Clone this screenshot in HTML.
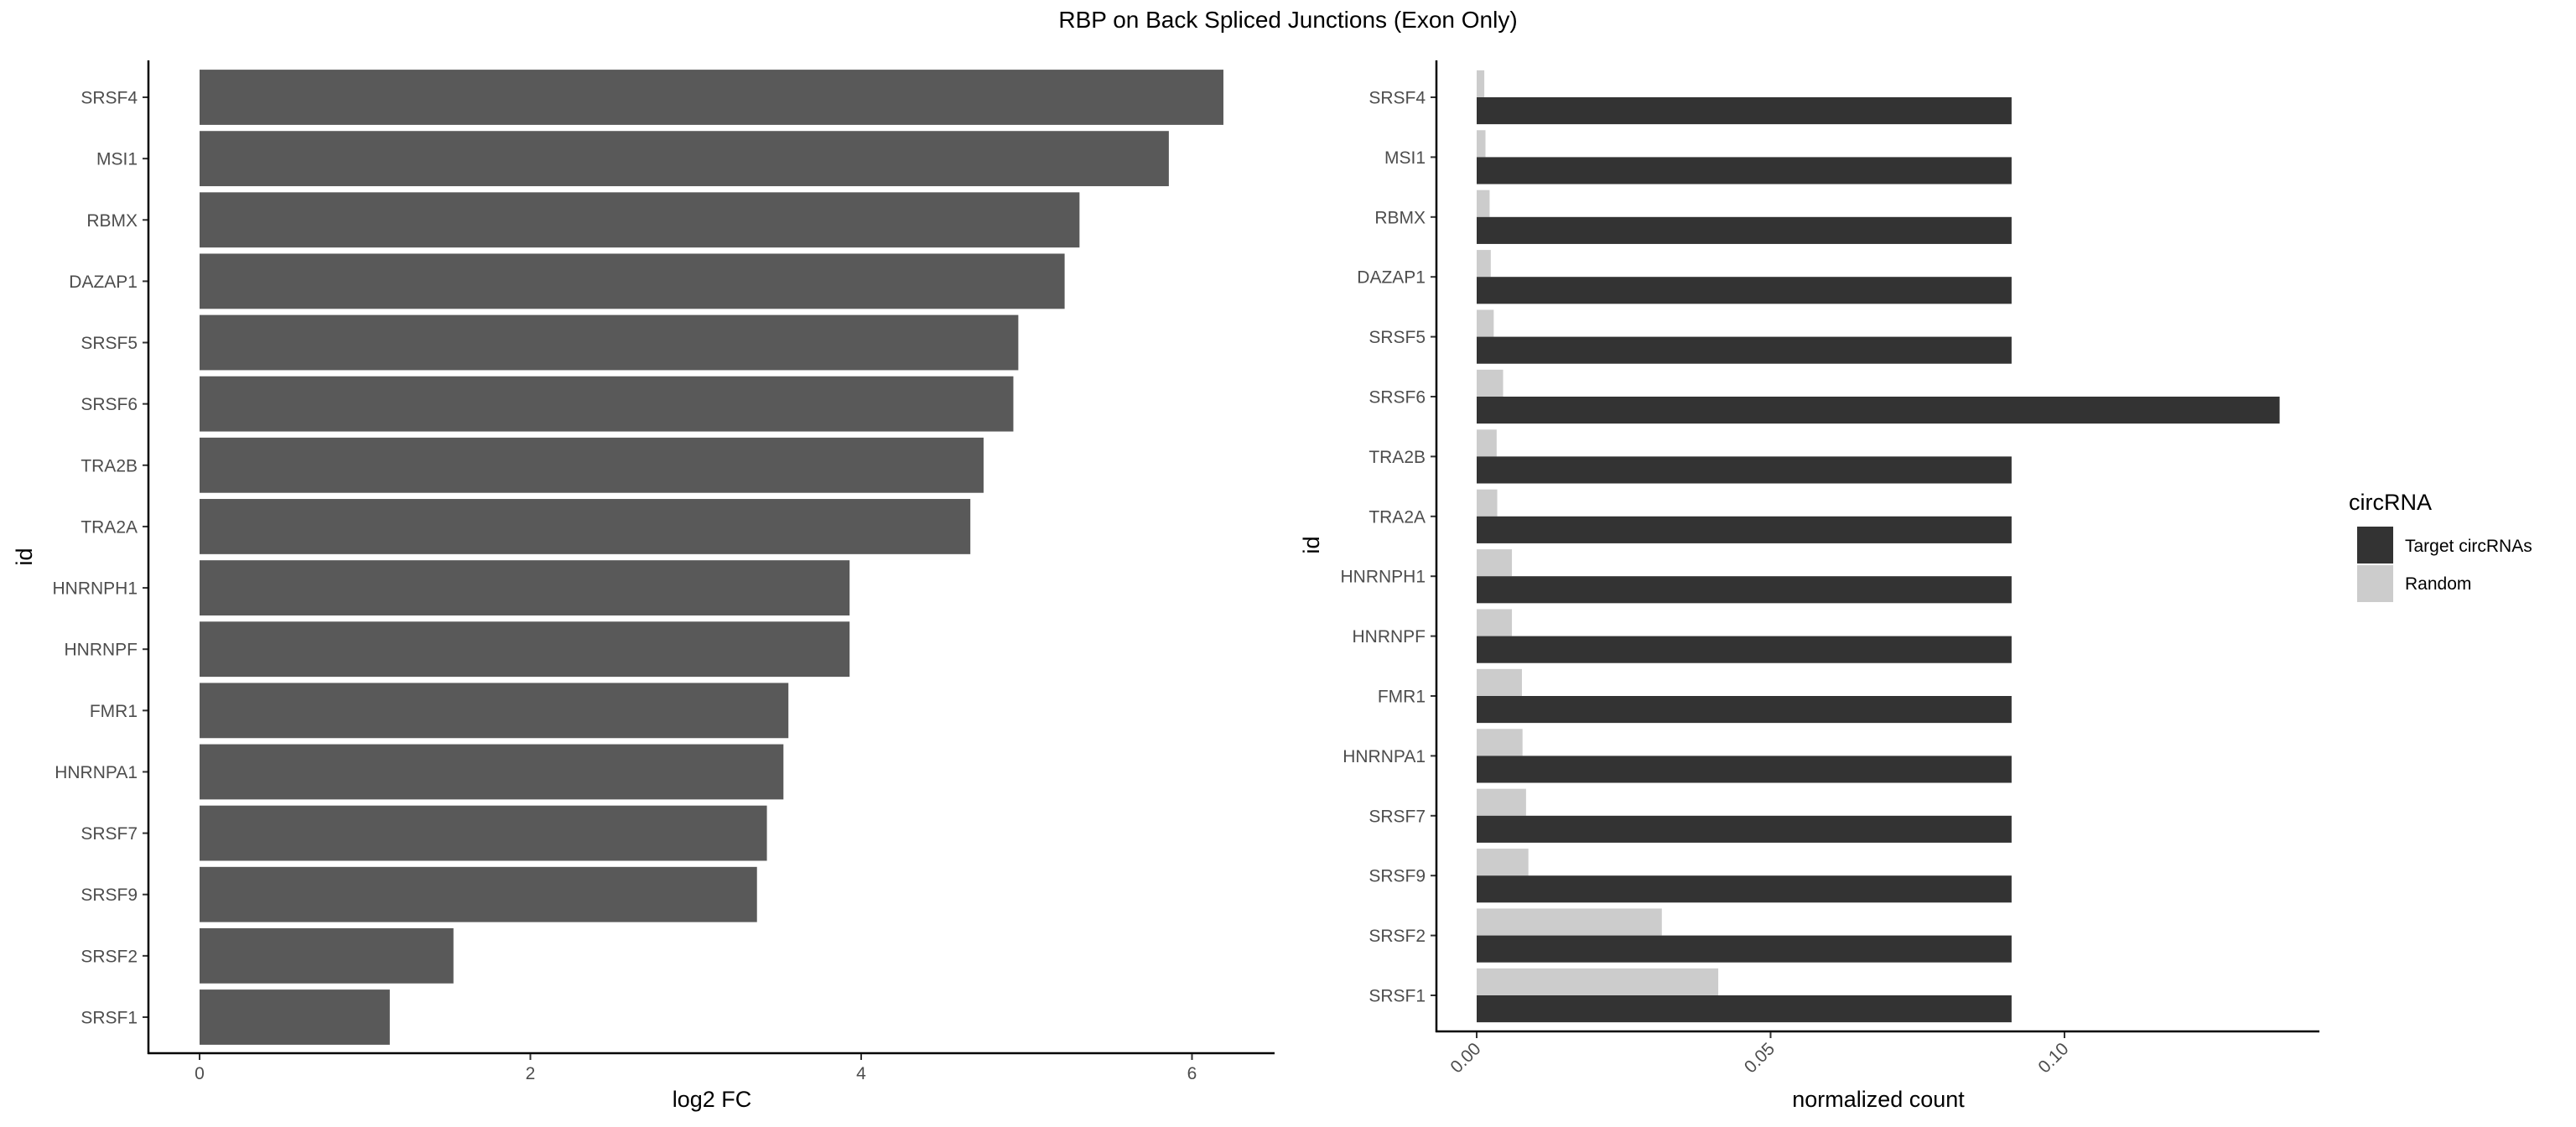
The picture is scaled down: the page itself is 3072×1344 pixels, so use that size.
<!DOCTYPE html>
<html><head><meta charset="utf-8"><style>
html,body{margin:0;padding:0;background:#fff}
svg{display:block;font-family:"Liberation Sans",Arial,sans-serif}
</style></head><body>
<svg id="chart" width="3072" height="1344" viewBox="0 0 3072 1344" xmlns="http://www.w3.org/2000/svg">
<text x="1536" y="33" text-anchor="middle" font-size="28" fill="#000">RBP on Back Spliced Junctions (Exon Only)</text>
<g id="left"></g>
<g id="right"></g>
<g id="legend">
<text x="2801" y="608" font-size="27" fill="#000">circRNA</text>
<rect x="2811" y="628" width="43" height="44" fill="#333333"/>
<rect x="2811" y="674" width="43" height="44" fill="#CCCCCC"/>
<text x="2868" y="658" font-size="21" fill="#000">Target circRNAs</text>
<text x="2868" y="703" font-size="21" fill="#000">Random</text>
</g>
</svg>
<script>
const categories = ["SRSF4","MSI1","RBMX","DAZAP1","SRSF5","SRSF6","TRA2B","TRA2A","HNRNPH1","HNRNPF","FMR1","HNRNPA1","SRSF7","SRSF9","SRSF2","SRSF1"];
const log2fc = [6.19,5.86,5.32,5.23,4.95,4.92,4.74,4.66,3.93,3.93,3.56,3.53,3.43,3.37,1.535,1.15];
const targetCounts = [0.091,0.091,0.091,0.091,0.091,0.1366,0.091,0.091,0.091,0.091,0.091,0.091,0.091,0.091,0.091,0.091];
const randomCounts = [0.0013,0.0015,0.0022,0.0024,0.0029,0.0045,0.0034,0.0035,0.006,0.006,0.0077,0.0078,0.0084,0.0088,0.0315,0.0411];
const leftTicks = [0,2,4,6];
const rightTicks = [0,0.05,0.10];
const rightTickLabels = ["0.00","0.05","0.10"];

const NS="http://www.w3.org/2000/svg";
function mk(tag, attrs, parent){const e=document.createElementNS(NS,tag);for(const k in attrs)e.setAttribute(k,attrs[k]);parent.appendChild(e);return e;}

// LEFT PANEL
const L=document.getElementById('left');
const lx=v=>238+v*(1421.5-238)/6;
const lBand=(1213-116)/15;
const ly=i=>116+i*lBand;
categories.forEach((c,i)=>{
  const r=mk('rect',{x:lx(0),y:ly(i)-lBand*0.45,width:lx(log2fc[i])-lx(0),height:lBand*0.9,fill:'#595959'},L);
  
  
  const t=mk('text',{x:164,y:ly(i)+7.5,'text-anchor':'end','font-size':21,fill:'#4D4D4D'},L);
  t.textContent=c;
  
  
  mk('line',{x1:170,x2:177,y1:ly(i),y2:ly(i),stroke:'#333',"stroke-width":2},L);
});
let a=mk('line',{x1:177,x2:177,y1:72,y2:1257,stroke:'#000','stroke-width':2.5},L);


a=mk('line',{x1:176,x2:1520,y1:1256,y2:1256,stroke:'#000','stroke-width':2.5},L);


leftTicks.forEach(v=>{
  mk('line',{x1:lx(v),x2:lx(v),y1:1257,y2:1264,stroke:'#333','stroke-width':2},L);
  const t=mk('text',{x:lx(v),y:1287,'text-anchor':'middle','font-size':21,fill:'#4D4D4D'},L);
  t.textContent=String(v);
  
  
});
let t=mk('text',{x:849,y:1320,'text-anchor':'middle','font-size':27,fill:'#000'},L);
t.textContent='log2 FC';


t=mk('text',{x:38,y:664,'text-anchor':'middle','font-size':27,fill:'#000',transform:'rotate(-90 38 664)'},L);
t.textContent='id';



// RIGHT PANEL
const R=document.getElementById('right');
const rx=v=>1761+v*(2462-1761)/0.1;
const rBand=(1187-116)/15;
const ry=i=>116+i*rBand;
categories.forEach((c,i)=>{
  const h=rBand*0.45;
  let r=mk('rect',{x:rx(0),y:ry(i)-h,width:rx(randomCounts[i])-rx(0),height:h,fill:'#CCCCCC'},R);
  
  
  r=mk('rect',{x:rx(0),y:ry(i),width:rx(targetCounts[i])-rx(0),height:h,fill:'#333333'},R);
  
  
  const tt=mk('text',{x:1700,y:ry(i)+7.5,'text-anchor':'end','font-size':21,fill:'#4D4D4D'},R);
  tt.textContent=c;
  
  
  mk('line',{x1:1706,x2:1713,y1:ry(i),y2:ry(i),stroke:'#333','stroke-width':2},R);
});
a=mk('line',{x1:1713,x2:1713,y1:72,y2:1231,stroke:'#000','stroke-width':2.5},R);


a=mk('line',{x1:1712,x2:2766,y1:1230,y2:1230,stroke:'#000','stroke-width':2.5},R);


rightTicks.forEach((v,k)=>{
  const x=rx(v);
  mk('line',{x1:x,x2:x,y1:1231,y2:1238,stroke:'#333','stroke-width':2},R);
  const tt=mk('text',{x:x+6,y:1252,'text-anchor':'end','font-size':21,fill:'#4D4D4D',transform:'rotate(-45 '+(x+6)+' 1252)'},R);
  tt.textContent=rightTickLabels[k];
  
  
});
t=mk('text',{x:2240,y:1320,'text-anchor':'middle','font-size':27,fill:'#000'},R);
t.textContent='normalized count';


t=mk('text',{x:1573,y:650,'text-anchor':'middle','font-size':27,fill:'#000',transform:'rotate(-90 1573 650)'},R);
t.textContent='id';


</script>
</body></html>
